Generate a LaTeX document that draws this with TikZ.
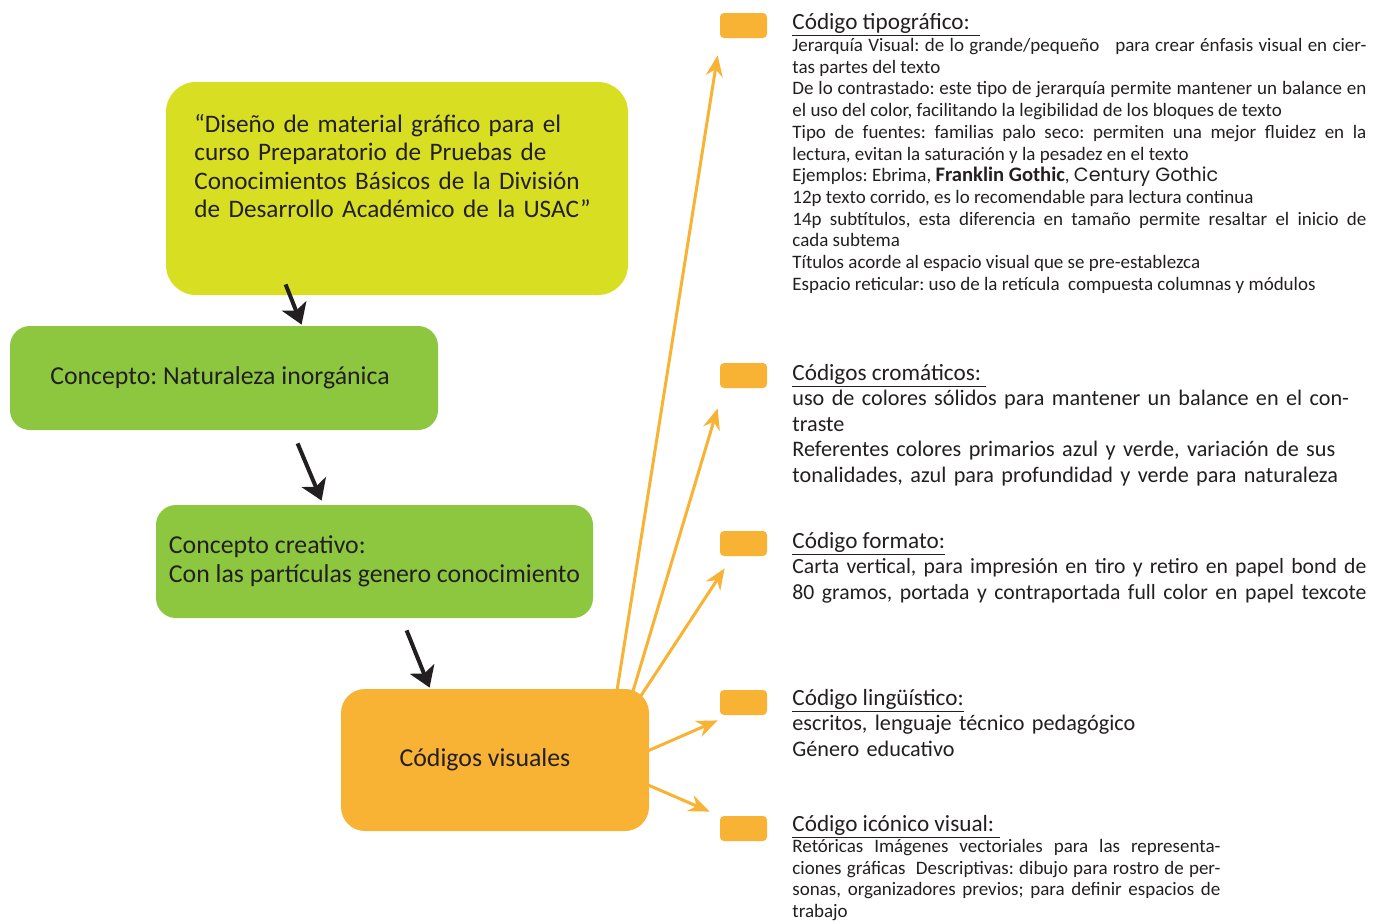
\documentclass[tikz,border=0pt]{standalone}
\usepackage{fontspec}
\setmainfont{Carlito}
\newfontfamily\gotica{Poppins}
\usetikzlibrary{arrows.meta}
\definecolor{amarillo}{RGB}{216,223,35}
\definecolor{verde}{RGB}{141,198,63}
\definecolor{naranja}{RGB}{248,178,52}
\definecolor{tinta}{RGB}{35,31,32}
\hyphenpenalty=10000
\tolerance=9999
\frenchspacing

\begin{document}
\begin{tikzpicture}[x=0.5pt, y=-0.5pt,
    caja/.style={inner sep=0pt, text=tinta, align=left,
      font=\fontsize{12.9}{14.5}\selectfont},
    cuadro/.style={fill=naranja, rounded corners=2pt, inner sep=0pt,
      minimum width=23.5pt, minimum height=12.5pt},
    titulo/.style={anchor=base west, inner sep=0pt, text=tinta,
      font=\fontsize{11.6}{13}\selectfont},
    cuerpo/.style={anchor=base west, inner sep=0pt, text=tinta,
      align=justify, text width=287pt, font=\fontsize{9.5}{10.85}\selectfont},
    cuerpoG/.style={cuerpo, font=\fontsize{11.1}{12.8}\selectfont},
    flecha/.style={draw=tinta, line width=2pt,
      -{Stealth[length=10pt,width=13pt,inset=2.5pt]}},
    rayo/.style={draw=naranja, line width=1.5pt,
      -{Stealth[length=10.5pt,width=8.5pt,inset=3.5pt]}}
  ]
    \useasboundingbox (0,0) rectangle (1382,922);

    % cajas de la izquierda
    \node[caja, fill=amarillo, rounded corners=15pt,
      minimum width=231pt, minimum height=106.5pt] (tema) at (397,188.5) {};
    \node[caja, anchor=base west, text width=230pt,
      font=\fontsize{12.6}{14.25}\selectfont]
      (temaTxt) at (194,132) {“Diseño de material gráfico para el\\
      curso Preparatorio de Pruebas de\\
      Conocimientos Básicos de la División\\
      de Desarrollo Académico de la USAC”};
    \node[caja, fill=verde, rounded corners=10pt,
      minimum width=214pt, minimum height=52pt] (concepto) at (224,378)
      {Concepto: Naturaleza inorgánica\hspace*{4pt}};
    \node[caja, fill=verde, rounded corners=10pt,
      minimum width=218.5pt, minimum height=56.5pt] (creativo) at (374.5,561.5)
      {Concepto creativo:\\ Con las partículas genero conocimiento};
    \node[caja, fill=naranja, rounded corners=12pt,
      minimum width=154pt, minimum height=71pt] (codigos) at (495,760)
      {Códigos visuales\hspace*{10pt}};

    % cuadros de los codigos
    \node[cuadro] (tipo) at (743.5,25.5) {};
    \node[cuadro] (croma) at (743.5,375.5) {};
    \node[cuadro] (formato) at (743.5,543.5) {};
    \node[cuadro] (lengua) at (743.5,702.5) {};
    \node[cuadro] (icono) at (743.5,828.5) {};

    % textos
    \node[titulo] (tipoTit) at (792,29) {\underline{Código tipográfico:\ \ }};
    \node[cuerpo] (tipoTxt) at (792,51.5) {Jerarquía Visual: de lo grande/pequeño\ \ \ para crear énfasis visual en cier-\linebreak
      tas partes del texto\\
      De lo contrastado: este tipo de jerarquía permite mantener un balance en\linebreak
      el uso del color, facilitando la legibilidad de los bloques de texto\\
      Tipo de fuentes: familias palo seco: permiten una mejor fluidez en la\linebreak
      lectura, evitan la saturación y la pesadez en el texto\\
      Ejemplos: Ebrima, {\bfseries\fontsize{10.3}{10.85}\selectfont Franklin Gothic}, {\gotica\fontsize{9.6}{10.85}\selectfont Century Gothic}\\
      12p texto corrido, es lo recomendable para lectura continua\\
      14p subtítulos, esta diferencia en tamaño permite resaltar el inicio de\linebreak
      cada subtema\\
      Títulos acorde al espacio visual que se pre-establezca\\
      Espacio reticular: uso de la retícula\ \ compuesta columnas y módulos};

    \node[titulo] (cromaTit) at (792,380) {\underline{Códigos cromáticos:\ }};
    \node[cuerpoG, align=left] (cromaTxt) at (792,405.5) {uso de colores sólidos para mantener un balance en el con-\\
      traste\\
      Referentes colores primarios azul y verde, variación de sus\\
      tonalidades, azul para profundidad y verde para naturaleza};

    \node[titulo] (formatoTit) at (792,548) {\underline{Código formato:}};
    \node[cuerpoG, font=\fontsize{10.85}{12.8}\selectfont] (formatoTxt) at (792,573.5) {Carta vertical, para impresión en tiro y retiro en papel bond de\linebreak
      80 gramos, portada y contraportada full color en papel texcote\linebreak};

    \node[titulo] (lenguaTit) at (792,705) {\underline{Código lingüístico:}};
    \node[cuerpoG, align=left] (lenguaTxt) at (792,730.5) {escritos, lenguaje técnico pedagógico\\
      Género educativo};

    \node[titulo] (iconoTit) at (792,831) {\underline{Código icónico visual:\ }};
    \node[cuerpo, text width=214pt] (iconoTxt) at (792,852.5) {Retóricas Imágenes vectoriales para las representa-\linebreak
      ciones gráficas\ \ Descriptivas: dibujo para rostro de per-\linebreak
      sonas, organizadores previos; para definir espacios de\linebreak
      trabajo};

    % flechas negras
    \draw[flecha] ([xshift=60pt,yshift=5.5pt]tema.south west) -- ([xshift=146pt,yshift=0.5pt]concepto.north west);
    \draw[flecha] ([xshift=144pt,yshift=-6.5pt]concepto.south west) -- ([xshift=83pt,yshift=2pt]creativo.north west);
    \draw[flecha] ([xshift=125.5pt,yshift=-6pt]creativo.south west) -- ([xshift=44.5pt,yshift=0.5pt]codigos.north west);

    % flechas naranjas
    \draw[rayo] ([xshift=-18.5pt,yshift=-15.5pt]codigos.north east) -- ([xshift=-1pt,yshift=-8.5pt]tipo.south west);
    \draw[rayo] ([xshift=-13.5pt,yshift=-19pt]codigos.north east) -- ([xshift=-1pt,yshift=-10pt]croma.south west);
    \draw[rayo] ([xshift=-4.5pt,yshift=-4pt]codigos.north east) -- ([xshift=2.5pt,yshift=-6pt]formato.south west);
    \draw[rayo] ([xshift=-13.5pt,yshift=-1pt]codigos.east) -- ([xshift=-1pt,yshift=-2.5pt]lengua.south west);
    \draw[rayo] ([xshift=-14.5pt,yshift=-6.5pt]codigos.east) -- ([xshift=-5pt,yshift=2pt]icono.north west);
\end{tikzpicture}
\end{document}
